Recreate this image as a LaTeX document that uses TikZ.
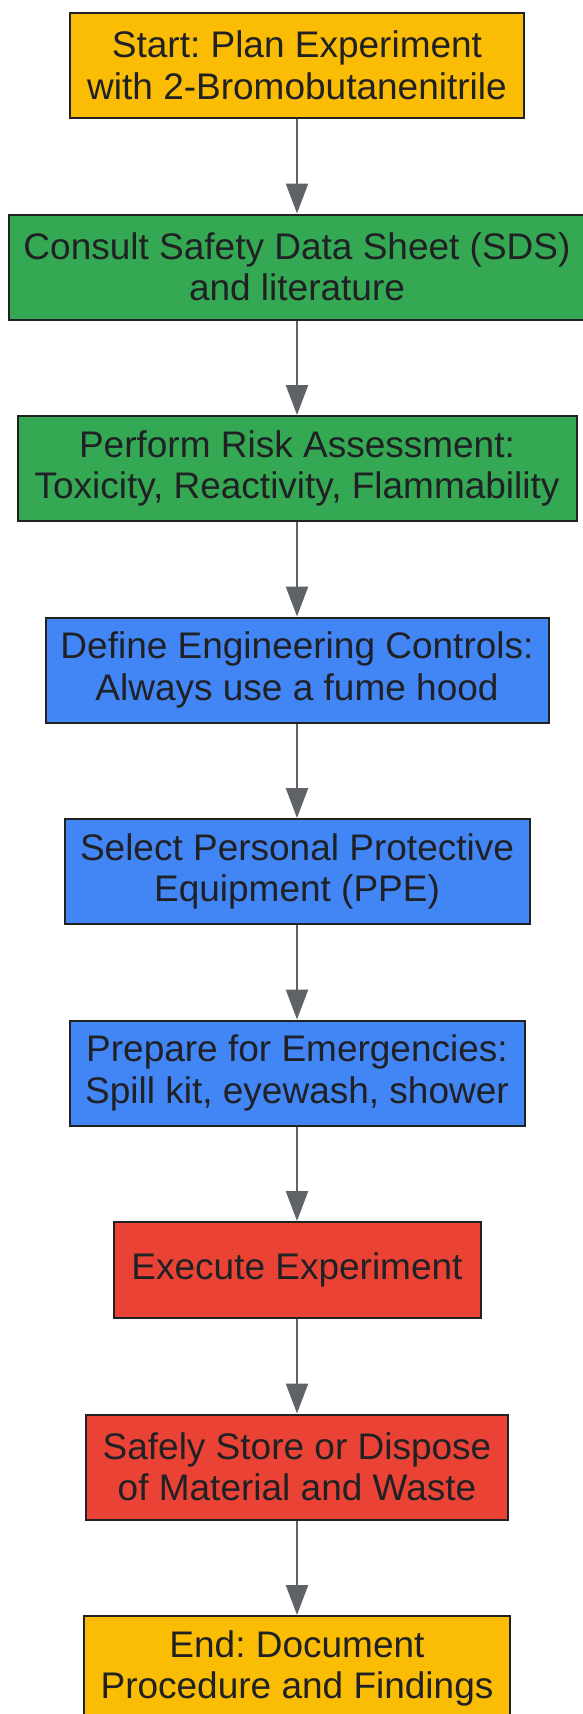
\documentclass[tikz,border=0pt]{standalone}
\usepackage{fontspec}
\setmainfont{Liberation Sans}
\usepackage{tikz}
\usetikzlibrary{positioning}
\usetikzlibrary{arrows.meta}
\frenchspacing

\definecolor{startyellow}{HTML}{FBBC04}
\definecolor{stepgreen}{HTML}{34A853}
\definecolor{stepblue}{HTML}{4285F4}
\definecolor{stepred}{HTML}{EA4335}
\definecolor{linegray}{HTML}{5F6368}
\definecolor{textdark}{HTML}{202124}
\definecolor{boxedge}{HTML}{222222}

\tikzset{
    flowbox/.style={draw=boxedge, line width=2pt, align=center, text=textdark,
        font=\fontsize{37}{41.5}\selectfont, minimum height=105pt, inner sep=0pt},
    flowarrow/.style={draw=linegray, line width=2.5pt, -{Triangle[length=30pt, width=22pt]}}
}

\begin{document}
\begin{tikzpicture}[x=1pt, y=1pt, node distance=94.5pt]
\useasboundingbox (0,0) rectangle (582,-1714);
\node[flowbox, fill=startyellow, minimum width=454pt] (plan) at (297,-65.5) {Start: Plan Experiment\\with 2-Bromobutanenitrile};
\node[flowbox, fill=stepgreen, minimum width=576pt, below=of plan] (sds) {Consult Safety Data Sheet (SDS)\\and literature};
\node[flowbox, fill=stepgreen, minimum width=559pt, below=of sds] (risk) {Perform Risk Assessment:\\Toxicity, Reactivity, Flammability};
\node[flowbox, fill=stepblue, minimum width=503pt, below=of risk] (hood) {Define Engineering Controls:\\Always use a fume hood};
\node[flowbox, fill=stepblue, minimum width=465pt, below=of hood] (ppe) {Select Personal Protective\\Equipment (PPE)};
\node[flowbox, fill=stepblue, minimum width=455pt, below=of ppe] (emerg) {Prepare for Emergencies:\\Spill kit, eyewash, shower};
\node[flowbox, fill=stepred, minimum width=367pt, minimum height=96pt, below=of emerg] (exec) {Execute Experiment};
\node[flowbox, fill=stepred, minimum width=422pt, below=of exec] (waste) {Safely Store or Dispose\\of Material and Waste};
\node[flowbox, fill=startyellow, minimum width=426pt, below=of waste] (doc) {End: Document\\Procedure and Findings};

\draw[flowarrow] (plan) -- (sds);
\draw[flowarrow] (sds) -- (risk);
\draw[flowarrow] (risk) -- (hood);
\draw[flowarrow] (hood) -- (ppe);
\draw[flowarrow] (ppe) -- (emerg);
\draw[flowarrow] (emerg) -- (exec);
\draw[flowarrow] (exec) -- (waste);
\draw[flowarrow] (waste) -- (doc);
\end{tikzpicture}
\end{document}
